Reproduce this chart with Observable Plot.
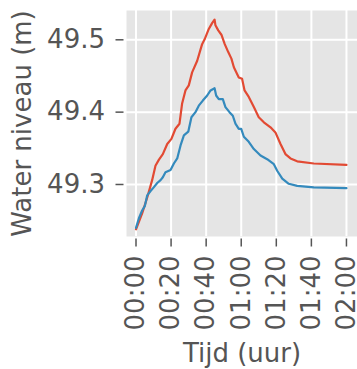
<!DOCTYPE html>
<html><head><meta charset="utf-8">
<script src="https://cdn.jsdelivr.net/npm/d3@7"></script>
<script src="https://cdn.jsdelivr.net/npm/@observablehq/plot@0.6"></script>
<style>body{margin:0;background:#fff}</style>
</head><body><div id="chart"></div>
<script>
// Series A (red): time in minutes, water level in m
const timeA = [0, 3.5, 6.4, 9.2, 11.1, 13.0, 15.3, 17.8, 20.2, 22.5, 24.8, 26.3, 28.2, 30.1, 32.0, 34.9, 37.7, 39.2, 41.5, 43.4, 44.8, 45.3, 46.9, 48.7, 50.6, 52.6, 54.4, 55.8, 58.6, 60.5, 61.9, 64.3, 67.2, 70.0, 72.9, 76.7, 79.5, 82.4, 85.2, 88.1, 91.9, 101.4, 120];
const levelA = [49.238, 49.260, 49.282, 49.306, 49.326, 49.334, 49.342, 49.356, 49.363, 49.377, 49.384, 49.412, 49.430, 49.437, 49.455, 49.471, 49.494, 49.501, 49.515, 49.523, 49.528, 49.520, 49.513, 49.507, 49.494, 49.483, 49.474, 49.462, 49.448, 49.446, 49.430, 49.421, 49.407, 49.393, 49.386, 49.379, 49.372, 49.356, 49.342, 49.336, 49.332, 49.329, 49.327];
// Series B (blue)
const timeB = [0, 1.6, 3.5, 5.0, 6.4, 8.3, 10.1, 12.1, 14.0, 15.3, 16.8, 19.7, 21.6, 23.5, 25.4, 27.3, 29.8, 31.6, 33.9, 35.8, 38.1, 40.6, 42.5, 44.8, 45.7, 47.2, 49.5, 51.0, 53.3, 55.2, 56.7, 58.6, 60.0, 61.5, 64.3, 67.2, 71.0, 74.8, 78.6, 80.5, 83.4, 87.1, 91.9, 101.4, 120];
const levelB = [49.240, 49.253, 49.264, 49.270, 49.285, 49.291, 49.296, 49.302, 49.306, 49.310, 49.317, 49.320, 49.329, 49.336, 49.354, 49.368, 49.373, 49.393, 49.400, 49.409, 49.416, 49.423, 49.430, 49.433, 49.423, 49.418, 49.418, 49.407, 49.400, 49.395, 49.384, 49.377, 49.377, 49.366, 49.359, 49.349, 49.340, 49.335, 49.328, 49.319, 49.308, 49.301, 49.298, 49.296, 49.295];
const seriesNames = ["A", "B"];
const seriesColors = ["#E24A33", "#348ABD"];
const xTicks = [0, 20, 40, 60, 80, 100, 120];
const yTicks = [49.3, 49.4, 49.5];
const xLabel = "Tijd (uur)";
const yLabel = "Water niveau (m)";

const fmt = m => String(Math.floor(m / 60)).padStart(2, "0") + ":" + String(m % 60).padStart(2, "0");
const rows = (t, v, s) => t.map((d, i) => ({t: d, v: v[i], s}));
const data = [...rows(timeA, levelA, seriesNames[0]), ...rows(timeB, levelB, seriesNames[1])];

const chart = Plot.plot({
  width: 357, height: 369,
  marginLeft: 126, marginRight: 0, marginTop: 10, marginBottom: 133,
  style: {fontFamily: "DejaVu Sans", fontSize: "26px", color: "#555555", background: "#fff"},
  x: {domain: [-5.42, 126.3]},
  y: {domain: [49.2281, 49.5405]},
  color: {domain: seriesNames, range: seriesColors},
  marks: [
    Plot.frame({fill: "#E5E5E5", stroke: "none"}),
    Plot.gridX(xTicks, {stroke: "white", strokeOpacity: 1, strokeWidth: 2}),
    Plot.gridY(yTicks, {stroke: "white", strokeOpacity: 1, strokeWidth: 2}),
    Plot.axisX(xTicks, {tickFormat: fmt, tickRotate: -90, tickSize: 8, tickPadding: 8.5, dy: 2.5, strokeWidth: 1.5, label: null, fontSize: 26}),
    Plot.axisY(yTicks, {tickFormat: d => d.toFixed(1), tickSize: 8, tickPadding: 11, dx: -2.5, strokeWidth: 1.5, label: null, fontSize: 26}),
    Plot.line(data, {x: "t", y: "v", stroke: "s", strokeWidth: 2.2}),
    Plot.text([xLabel], {text: d => d, frameAnchor: "bottom", dy: 107, lineAnchor: "top", textAnchor: "middle", fontSize: 26, fill: "#555555"}),
    Plot.text([yLabel], {text: d => d, frameAnchor: "left", dx: -114, rotate: -90, lineAnchor: "top", textAnchor: "middle", fontSize: 26, fill: "#555555"})
  ]
});
document.getElementById("chart").appendChild(chart);
</script>
</body></html>
